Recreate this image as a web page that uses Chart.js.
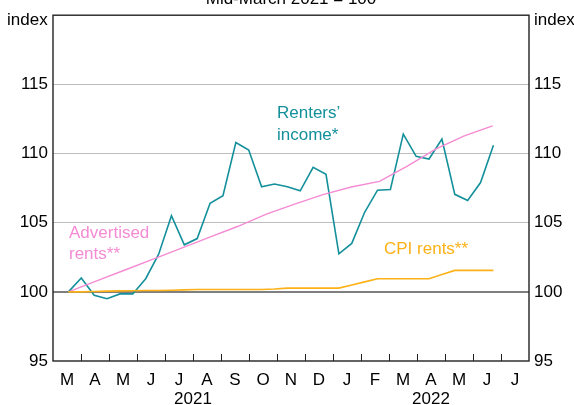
<!DOCTYPE html>
<html>
<head>
<meta charset="utf-8">
<script src="https://cdn.jsdelivr.net/npm/chart.js@4.4.1/dist/chart.umd.min.js"></script>
<style>
  html, body { margin: 0; padding: 0; background: #fff; }
  #wrap { width: 574px; height: 405px; position: relative; }
</style>
</head>
<body>
<div id="wrap"><canvas id="chart"></canvas></div>
<script>
// x axis is in months from 1 March 2021
const monthLetters = ['M', 'A', 'M', 'J', 'J', 'A', 'S', 'O', 'N', 'D', 'J', 'F', 'M', 'A', 'M', 'J', 'J'];
const yearLabels = ['2021', '2022'];
const yearCentres = [5, 13.5];
const yTicks = [95, 100, 105, 110, 115, 120];

// fortnightly series (renters' income, CPI rents)
const fortnightStart = 0.55;
const fortnightStep = 0.46;
const rentersIncome = [
  100, 101.0, 99.75, 99.5, 99.85, 99.85, 100.95, 102.7, 105.5, 103.4,
  103.85, 106.4, 106.95, 110.8, 110.25, 107.6, 107.8, 107.6, 107.3, 109.0,
  108.5, 102.75, 103.5, 105.75, 107.35, 107.4, 111.4, 109.8, 109.6, 111.05,
  107.05, 106.6, 107.9, 110.6
];
const cpiRents = [
  100, 100.0, 100.03, 100.05, 100.07, 100.08, 100.1, 100.1, 100.12, 100.14,
  100.17, 100.17, 100.17, 100.17, 100.17, 100.17, 100.2, 100.27, 100.27, 100.27,
  100.27, 100.27, 100.5, 100.72, 100.95, 100.95, 100.95, 100.95, 100.95, 101.25,
  101.55, 101.55, 101.55, 101.55
];

// monthly series (advertised rents)
const advertStart = 0.55;
const advertStep = 1.01;
const advertisedRents = [
  100, 100.79, 101.58, 102.37, 103.16, 103.95, 104.74, 105.62, 106.34, 107.03,
  107.58, 107.99, 109.1, 110.33, 111.27, 112.0
];

const TEAL = '#14909b';
const PINK = '#f48bd4';
const ORANGE = '#fbb117';
const FONT = 'Liberation Sans, Arial, sans-serif';

const toPoints = (vals, start, step) => vals.map((v, i) => ({ x: start + i * step, y: v }));

const frameAndText = {
  id: 'frameAndText',
  beforeDatasetsDraw(chart) {
    const { ctx, chartArea: a, scales } = chart;
    ctx.save();
    // month tick marks pointing into the plot
    ctx.strokeStyle = '#222';
    ctx.lineWidth = 1;
    for (let i = 1; i < monthLetters.length; i++) {
      const px = Math.round(scales.x.getPixelForValue(i)) + 0.5;
      ctx.beginPath();
      ctx.moveTo(px, a.bottom);
      ctx.lineTo(px, a.bottom - 7);
      ctx.stroke();
    }
    ctx.restore();
  },
  afterDraw(chart) {
    const { ctx, chartArea: a } = chart;
    ctx.save();
    ctx.strokeStyle = '#222';
    ctx.lineWidth = 1.4;
    ctx.strokeRect(a.left, a.top, a.right - a.left, a.bottom - a.top);

    ctx.font = '17px ' + FONT;
    ctx.textBaseline = 'middle';
    ctx.fillStyle = '#000';
    ctx.textAlign = 'left';
    ctx.fillText('index', 7, 20);
    ctx.fillText('index', 534, 20);
    ctx.textAlign = 'center';
    ctx.textBaseline = 'alphabetic';
    ctx.fillText('Mid-March 2021 = 100', 291, 4);

    ctx.textBaseline = 'middle';
    ctx.textAlign = 'left';
    ctx.fillStyle = TEAL;
    ctx.fillText('Renters\u2019', 277, 113);
    ctx.fillText('income*', 277, 135);
    ctx.fillStyle = PINK;
    ctx.fillText('Advertised', 69, 233);
    ctx.fillText('rents**', 69, 254);
    ctx.fillStyle = ORANGE;
    ctx.fillText('CPI rents**', 384, 249);
    ctx.restore();
  }
};

const yScale = (pos, showGrid, width) => ({
  type: 'linear',
  position: pos,
  min: 95,
  max: 120,
  afterBuildTicks: s => { s.ticks = yTicks.map(v => ({ value: v })); },
  afterFit: s => { s.width = width; },
  ticks: {
    callback: v => v === 120 ? '' : v,
    color: '#000',
    font: { family: FONT, size: 17 },
    padding: 5
  },
  grid: {
    display: showGrid,
    drawTicks: false,
    color: c => (c.tick.value === 95 || c.tick.value === 120) ? 'rgba(0,0,0,0)' : (c.tick.value === 100 ? '#7f7f7f' : '#bdbdbd'),
    lineWidth: c => c.tick.value === 100 ? 2 : 1
  },
  border: { display: false }
});

new Chart(document.getElementById('chart'), {
  type: 'line',
  data: {
    datasets: [
      { label: 'CPI rents', data: toPoints(cpiRents, fortnightStart, fortnightStep), borderColor: ORANGE, borderWidth: 1.6 },
      { label: 'Advertised rents', data: toPoints(advertisedRents, advertStart, advertStep), borderColor: PINK, borderWidth: 1.4 },
      { label: 'Renters\u2019 income', data: toPoints(rentersIncome, fortnightStart, fortnightStep), borderColor: TEAL, borderWidth: 1.6 }
    ]
  },
  options: {
    responsive: true,
    maintainAspectRatio: false,
    animation: false,
    elements: { point: { radius: 0 }, line: { tension: 0 } },
    layout: { padding: { top: 9, left: 0, right: 0, bottom: 0 } },
    plugins: { legend: { display: false }, tooltip: { enabled: false }, title: { display: false } },
    scales: {
      x: {
        type: 'linear',
        position: 'bottom',
        min: 0,
        max: monthLetters.length,
        afterBuildTicks: s => { s.ticks = monthLetters.map((_, i) => ({ value: i + 0.5 })); },
        afterFit: s => { s.height = 27; },
        ticks: {
          autoSkip: false,
          maxRotation: 0,
          callback: (v, i) => monthLetters[i],
          color: '#000',
          font: { family: FONT, size: 17 },
          padding: 9
        },
        grid: { display: false, drawTicks: false },
        border: { display: false }
      },
      xYear: {
        type: 'linear',
        position: 'bottom',
        min: 0,
        max: monthLetters.length,
        afterBuildTicks: s => { s.ticks = yearCentres.map(v => ({ value: v })); },
        afterFit: s => { s.height = 17; },
        ticks: {
          autoSkip: false,
          maxRotation: 0,
          callback: (v, i) => yearLabels[i],
          color: '#000',
          font: { family: FONT, size: 17 },
          padding: 1
        },
        grid: { display: false, drawTicks: false },
        border: { display: false }
      },
      y: yScale('left', true, 53),
      y2: yScale('right', false, 45)
    }
  },
  plugins: [frameAndText]
});
</script>
</body>
</html>
